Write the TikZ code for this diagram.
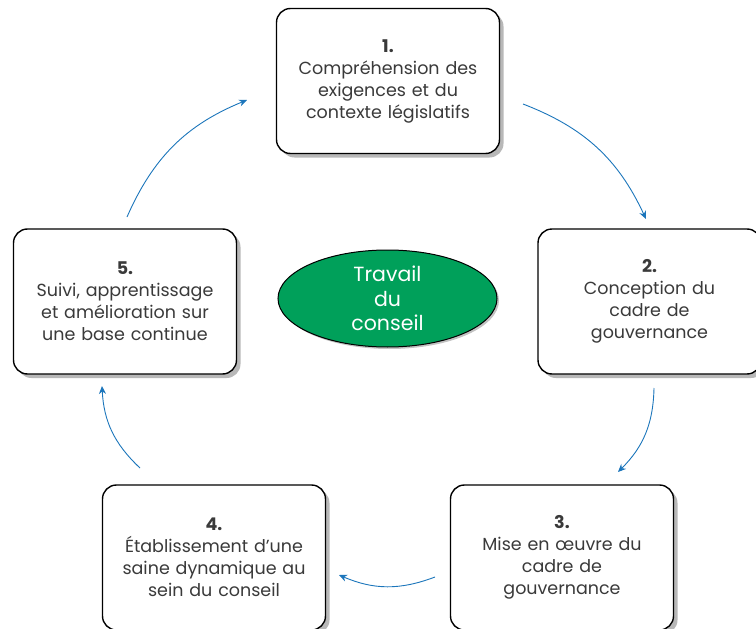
\documentclass[tikz,border=0pt]{standalone}
\usepackage{fontspec}
\setmainfont{Poppins}
\usetikzlibrary{shadows,arrows.meta,shapes.geometric}
\definecolor{txtgray}{HTML}{3A3A3A}
\definecolor{arrowblue}{HTML}{1B75BB}
\definecolor{boardgreen}{HTML}{00A05A}
\tikzset{
  stepbox/.style={draw=black, line width=1.4pt, fill=white, rounded corners=14pt,
    minimum width=223pt, minimum height=145pt, inner sep=0pt,
    text width=215pt, align=center, text=txtgray,
    font=\fontsize{17.5}{22}\selectfont,
    drop shadow={shadow xshift=4pt, shadow yshift=-4pt, fill=black!35, opacity=0.8}},
  flow/.style={draw=arrowblue, line width=0.9pt, -{Stealth[length=8pt,width=7pt]}, bend left=22},
}
\begin{document}
\begin{tikzpicture}[x=1pt,y=-1pt]
\useasboundingbox (0,0) rectangle (756,629);
\clip (0,0) rectangle (756,629);
\node[stepbox] (b1) at (388,81) {\textbf{1.}\\Compréhension des\\exigences et du\\contexte législatifs};
\node[stepbox] (b2) at (649.5,301.5) {\textbf{2.}\\Conception du\\cadre de\\gouvernance};
\node[stepbox] (b3) at (562,557.5) {\textbf{3.}\\Mise en œuvre du\\cadre de\\gouvernance};
\node[stepbox] (b4) at (214,557.5) {\textbf{4.}\\Établissement d’une\\saine dynamique au\\sein du conseil};
\node[stepbox] (b5) at (125,301.5) {\textbf{5.}\\Suivi, apprentissage\\et amélioration sur\\une base continue};
\node[ellipse, draw=black, line width=1pt, fill=boardgreen, minimum width=219pt, minimum height=97pt,
  text=white, align=center, font=\fontsize{20.5}{24.5}\selectfont, inner sep=0pt,
  drop shadow={shadow xshift=2pt, shadow yshift=-2pt, fill=black!40, opacity=0.6}] (ctr) at (387.5,298.5) {Travail\\du\\conseil};
\coordinate (a1s) at (523,104); \coordinate (a1e) at (646,219);
\coordinate (a2s) at (654,388); \coordinate (a2e) at (618,472);
\coordinate (a3s) at (435,577); \coordinate (a3e) at (339,575);
\coordinate (a4s) at (140,468); \coordinate (a4e) at (102,386);
\coordinate (a5s) at (127,217); \coordinate (a5e) at (247,100);
\draw[flow] (a1s) to (a1e);
\draw[flow] (a2s) to (a2e);
\draw[flow] (a3s) to (a3e);
\draw[flow] (a4s) to (a4e);
\draw[flow] (a5s) to (a5e);
\end{tikzpicture}
\end{document}
